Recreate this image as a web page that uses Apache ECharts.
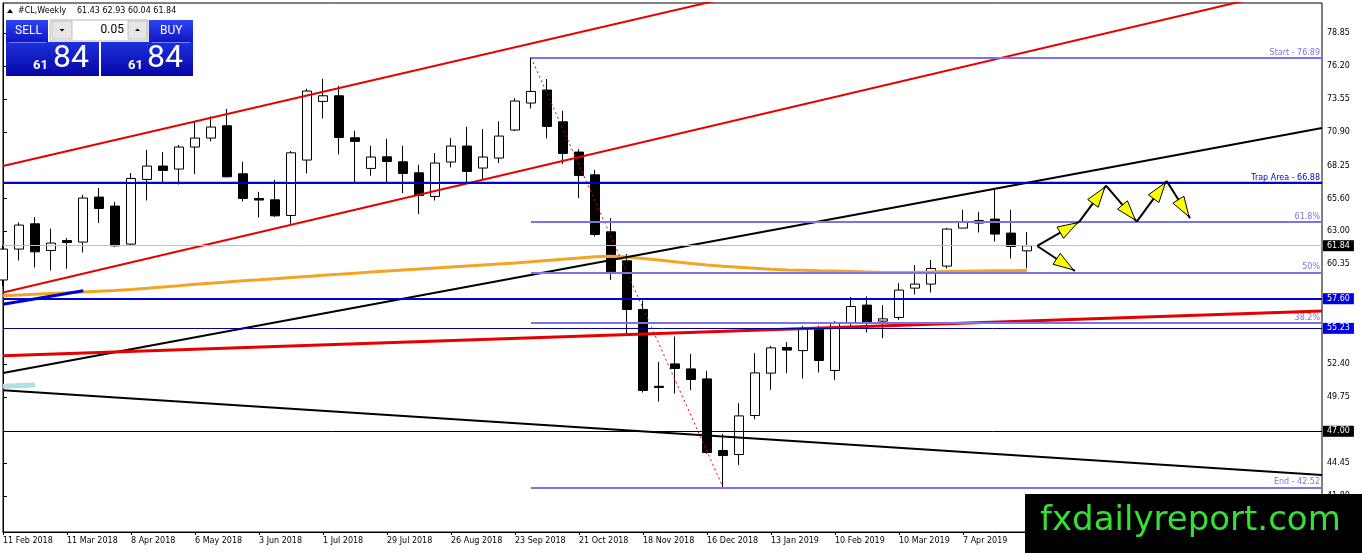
<!DOCTYPE html>
<html>
<head>
<meta charset="utf-8">
<script src="https://cdn.jsdelivr.net/npm/echarts/dist/echarts.min.js"></script>
<style>
html,body{margin:0;padding:0;background:#fff;}
#c{width:1362px;height:553px;}
</style>
</head>
<body>
<div id="c"></div>
<script>
// ---- data (weekly #CL candles, first week = 11 Feb 2018) ----
const xTickIdx = [0,4,8,12,16,20,24,28,32,36,40,44,48,52,56,60,64,68,72,76,80];
const xLabels = ['11 Feb 2018','11 Mar 2018','8 Apr 2018','6 May 2018','3 Jun 2018','1 Jul 2018','29 Jul 2018','26 Aug 2018','23 Sep 2018','21 Oct 2018','18 Nov 2018','16 Dec 2018','13 Jan 2019','10 Feb 2019','10 Mar 2019','7 Apr 2019','5 May 2019','2 Jun 2019','30 Jun 2019','28 Jul 2019','25 Aug 2019'];
const yTicks = [78.85,76.20,73.55,70.90,68.25,65.60,63.00,60.35,52.40,49.75,44.45,41.80];

const opens  = [59.10,61.57,63.59,61.46,62.25,62.13,65.73,65.01,61.97,67.14,68.21,67.97,69.73,70.45,71.43,67.59,65.62,65.51,64.26,68.69,73.38,73.83,70.47,68.02,68.95,68.55,67.67,65.78,68.53,69.81,68.05,68.85,71.09,73.25,74.29,71.75,69.33,67.51,62.95,60.63,56.74,50.60,52.39,51.99,51.19,45.46,45.14,48.26,51.65,53.70,53.45,55.17,51.86,55.70,57.09,55.81,56.10,58.45,58.77,60.21,63.25,63.65,63.97,62.85,61.43];
const highs  = [61.90,63.70,64.13,63.20,62.45,65.90,66.45,65.35,67.65,69.51,69.33,69.90,71.78,72.18,72.77,68.55,66.15,67.11,69.41,74.39,75.19,74.63,71.03,69.83,70.39,69.83,68.31,69.25,70.45,71.35,71.17,71.78,73.65,76.89,75.17,72.63,69.57,67.91,64.05,61.17,57.46,52.55,54.58,53.19,51.83,46.79,49.25,53.25,53.83,54.13,55.43,55.43,55.81,57.73,57.78,57.09,58.85,60.29,60.69,63.27,64.71,64.55,66.30,64.71,62.93];
const lows   = [58.60,60.66,60.10,59.86,60.00,61.30,63.65,61.73,61.89,65.46,66.93,66.74,67.57,70.18,67.30,65.38,64.10,64.15,63.60,67.62,72.02,69.14,66.93,67.43,66.90,66.05,64.37,65.46,68.10,66.90,67.11,68.45,71.00,72.82,70.42,68.37,65.65,62.58,59.11,54.85,50.10,49.38,50.02,50.29,45.20,42.52,44.31,47.97,50.31,51.65,51.22,51.70,51.11,55.38,54.90,54.45,55.91,57.94,58.10,60.02,63.25,62.90,62.18,60.82,60.04];
const closes = [61.57,63.49,61.35,62.05,62.10,65.65,64.82,61.83,67.22,68.21,67.86,69.73,70.45,71.33,67.35,65.62,65.49,64.23,69.27,74.21,73.83,70.50,70.18,68.93,68.58,67.62,65.86,68.45,69.81,67.78,68.93,70.61,73.41,74.18,71.38,69.22,67.46,62.74,59.75,56.74,50.26,50.50,52.02,51.14,45.30,45.06,48.23,51.67,53.67,53.49,55.17,52.66,55.70,56.98,55.70,55.99,58.29,58.77,60.02,63.17,63.70,63.86,62.77,61.78,61.84];
const maValues = [57.84,57.90,57.95,58.02,58.07,58.14,58.20,58.26,58.34,58.43,
  58.54,58.64,58.75,58.84,58.94,59.03,59.11,59.20,59.29,59.38,
  59.47,59.55,59.64,59.73,59.82,59.90,59.98,60.06,60.14,60.22,
  60.30,60.38,60.46,60.55,60.65,60.75,60.86,60.96,60.99,60.94,
  60.82,60.70,60.55,60.42,60.30,60.20,60.12,60.04,59.96,59.90,
  59.87,59.83,59.82,59.78,59.74,59.70,59.69,59.71,59.74,59.78,
  59.80,59.82,59.83,59.84,59.85];

// trend lines: [barIndex, price]
const redUpper   = [[0,68.22],[50,83.05]];
const redLower   = [[0,58.10],[82.44,82.89]];
const blackUp    = [[0,51.66],[82.44,71.25]];
const blackDown  = [[0,50.29],[82.44,43.50]];
const redThick   = [[0,53.04],[82.44,56.62]];
const blueShort  = [[0,57.16],[5.02,58.24]];
const lightBlue  = [[0,50.60],[2,50.70]];
const fibTrend   = [[33,76.89],[45,42.52]];
const fibLevels  = [
  {price:76.89, text:'Start - 76.89'},
  {price:63.76, text:'61.8%'},
  {price:59.705, text:'50%'},
  {price:55.65, text:'38.2%'},
  {price:42.52, text:'End - 42.52'}
];
const trapLevel = 66.88;
const lastPrice = 61.84;
const supportA = 57.60;
const supportB = 55.23;
const supportC = 47.00;
// projected path arrows: [x0, y0, x1, y1]
const arrowSegs = [
  [64.64,61.82,67.27,63.76],
  [67.27,63.76,68.94,66.64],
  [68.94,66.64,70.86,63.76],
  [70.86,63.76,72.73,67.02],
  [72.73,67.02,74.19,64.03],
  [64.64,61.82,67.00,59.82]
];

const candleData = opens.map((o,i)=>[i,o,closes[i],lows[i],highs[i]]);
const maData = maValues.map((v,i)=>[i,v]);
const XMAX = 82.4375;
const FIB = '#7d72e6';
const FONT = 'DejaVu Sans';

const chart = echarts.init(document.getElementById('c'), null, {renderer:'canvas'});

function trend(name, data, color, width, extra) {
  return Object.assign({
    name, type:'line', data, showSymbol:false, symbol:'none', silent:true, z:4,
    lineStyle:{color, width}, clip:true, animation:false
  }, extra||{});
}
function tag(value, bg, lineColor, lineWidth) {
  return {
    yAxis: value,
    lineStyle:{color: lineColor, width: lineWidth, type:'solid'},
    label:{show:true, position:'end', distance:1, formatter: value.toFixed(2),
      backgroundColor:bg, color:'#fff', padding:[2,4,1,4], fontFamily:FONT, fontSize:8}
  };
}

const option = {
  animation:false,
  backgroundColor:'#fff',
  grid:{left:3, top:3, right:40, bottom:21, show:true, borderColor:'#000', borderWidth:1, backgroundColor:'#fff'},
  xAxis:{
    type:'value', min:0, max:XMAX,
    axisLine:{show:true, lineStyle:{color:'#000', width:1}},
    axisTick:{show:true, length:3, lineStyle:{color:'#000'}, customValues:xTickIdx},
    axisLabel:{show:true, customValues:xTickIdx, formatter:(v)=>xLabels[Math.round(v/4)]||'', align:'left', margin:5,
      fontFamily:FONT, fontSize:8, color:'#000'},
    splitLine:{show:false}
  },
  yAxis:{
    type:'value', position:'right', min:38.945, max:81.25, scale:true,
    axisLine:{show:true, lineStyle:{color:'#000', width:1}},
    axisTick:{show:true, length:4, lineStyle:{color:'#000'}, customValues:yTicks},
    axisLabel:{show:true, customValues:yTicks, formatter:(v)=>v.toFixed(2), margin:5,
      fontFamily:FONT, fontSize:8, color:'#000'},
    splitLine:{show:false}
  },
  series:[
    {
      name:'levels', type:'line', data:[[0,trapLevel],[XMAX,trapLevel]], showSymbol:false, symbol:'none', silent:true, z:1,
      lineStyle:{color:'#0000cc', width:2}, animation:false,
      markLine:{
        silent:true, symbol:'none', animation:false,
        data:[
          tag(lastPrice,'#000000','#c0c0c0',1),
          tag(supportA,'#0000e6','#0000dd',2),
          tag(supportB,'#0000e6','#00009c',1),
          tag(supportC,'#000000','#000000',1),
          {yAxis:trapLevel, lineStyle:{color:'#0000cc', width:2, type:'solid'},
            label:{show:true, position:'insideEndTop', distance:[2,1], formatter:'Trap Area - 66.88', color:'#0000cc', fontFamily:FONT, fontSize:8}}
        ]
      }
    },
    {
      name:'CL', type:'candlestick', data:candleData, encode:{x:0, y:[1,2,3,4]}, barWidth:10, z:2, clip:true,
      itemStyle:{color:'#ffffff', color0:'#000000', borderColor:'#000000', borderColor0:'#000000', borderWidth:1},
      animation:false
    },
    trend('redUpper', redUpper, '#e60000', 2),
    trend('redLower', redLower, '#e60000', 2),
    trend('blackUp', blackUp, '#000000', 2),
    trend('blackDown', blackDown, '#000000', 2),
    trend('lightBlue', lightBlue, '#b0e0e6', 5),
    trend('MA', maData, '#f4a422', 3, {z:3}),
    trend('blueShort', blueShort, '#0000cc', 3),
    trend('redThick', redThick, '#e60000', 3),
    trend('fib', fibTrend, '#e60000', 1, {
      lineStyle:{color:'#e60000', width:1, type:[2,3]},
      markLine:{
        silent:true, symbol:'none', animation:false,
        data: fibLevels.map(f=>[
          {coord:[33,f.price], lineStyle:{color:FIB, width:2, type:'solid'},
            label:{show:true, position:'insideEndTop', distance:[2,1], formatter:f.text, color:FIB, fontFamily:FONT, fontSize:8}},
          {coord:[XMAX,f.price]}
        ])
      }
    }),
    {
      name:'arrows', type:'custom', data:arrowSegs, encode:{x:[0,2], y:[1,3]}, z:6, silent:true, animation:false,
      renderItem:(params, api)=>{
        const p0 = api.coord([api.value(0), api.value(1)]);
        const p1 = api.coord([api.value(2), api.value(3)]);
        const dx=p1[0]-p0[0], dy=p1[1]-p0[1];
        const len=Math.hypot(dx,dy)||1;
        const ux=dx/len, uy=dy/len, nx=-uy, ny=ux;
        const L=20, W=6.5;
        const tx=p1[0]-ux*2, ty=p1[1]-uy*2;
        const bx=tx-ux*L, by=ty-uy*L;
        return {type:'group', children:[
          {type:'line', shape:{x1:p0[0],y1:p0[1],x2:p1[0],y2:p1[1]}, style:{stroke:'#000', lineWidth:2}},
          {type:'polygon', shape:{points:[[tx,ty],[bx+nx*W,by+ny*W],[bx-nx*W,by-ny*W]]},
            style:{fill:'#ffff00', stroke:'#000', lineWidth:1}}
        ]};
      }
    }
  ],
  graphic:[
    // title line
    {type:'polygon', z:100, shape:{points:[[7,13],[13,13],[10,9]]}, style:{fill:'#000'}},
    {type:'text', z:100, x:18, y:11, style:{text:'#CL,Weekly', font:'8px DejaVu Sans', fill:'#000', verticalAlign:'middle'}},
    {type:'text', z:100, x:77, y:11, style:{text:'61.43 62.93 60.04 61.84', font:'8px DejaVu Sans', fill:'#000', verticalAlign:'middle'}},
    // SELL header
    {type:'rect', z:100, shape:{x:6,y:20,width:42,height:22}, style:{fill:new echarts.graphic.LinearGradient(0,0,0,1,[{offset:0,color:'#2e44f2'},{offset:1,color:'#1016c4'}])}},
    {type:'text', z:101, x:15, y:30.5, style:{text:'SELL', font:'12px Roboto', fill:'#fff', verticalAlign:'middle'}},
    // lot box
    {type:'rect', z:100, shape:{x:50,y:20,width:98,height:21}, style:{fill:'#fff', stroke:'#b8b8b8', lineWidth:1}},
    {type:'rect', z:101, shape:{x:52,y:21,width:20,height:18}, style:{fill:'#e6e6e6', stroke:'#c0c0c0', lineWidth:1}},
    {type:'polygon', z:102, shape:{points:[[59.5,29],[64.5,29],[62,31.5]]}, style:{fill:'#000'}},
    {type:'rect', z:101, shape:{x:128,y:21,width:19,height:18}, style:{fill:'#e6e6e6', stroke:'#c0c0c0', lineWidth:1}},
    {type:'polygon', z:102, shape:{points:[[135,31],[140,31],[137.5,28.5]]}, style:{fill:'#000'}},
    {type:'text', z:101, x:124, y:30, style:{text:'0.05', font:'12px Roboto', fill:'#000', align:'right', verticalAlign:'middle'}},
    // BUY header
    {type:'rect', z:100, shape:{x:149,y:20,width:44,height:22}, style:{fill:new echarts.graphic.LinearGradient(0,0,0,1,[{offset:0,color:'#2e44f2'},{offset:1,color:'#1016c4'}])}},
    {type:'text', z:101, x:160, y:30.5, style:{text:'BUY', font:'12px Roboto', fill:'#fff', verticalAlign:'middle'}},
    // price boxes
    {type:'rect', z:100, shape:{x:6,y:42,width:93,height:34}, style:{fill:new echarts.graphic.LinearGradient(0,0,0,1,[{offset:0,color:'#1d30dc'},{offset:1,color:'#0606a6'}])}},
    {type:'rect', z:100, shape:{x:101,y:42,width:92,height:34}, style:{fill:new echarts.graphic.LinearGradient(0,0,0,1,[{offset:0,color:'#1d30dc'},{offset:1,color:'#0606a6'}])}},
    {type:'line', z:101, shape:{x1:9,y1:42.5,x2:46,y2:42.5}, style:{stroke:'#7080ff', lineWidth:1}},
    {type:'line', z:101, shape:{x1:152,y1:42.5,x2:190,y2:42.5}, style:{stroke:'#7080ff', lineWidth:1}},
    {type:'text', z:101, x:48, y:65.5, style:{text:'61', font:'bold 13px Roboto', fill:'#fff', align:'right', verticalAlign:'middle'}},
    {type:'text', z:101, x:53, y:59, style:{text:'84', font:'32px Roboto', fill:'#fff', verticalAlign:'middle'}},
    {type:'text', z:101, x:143, y:65.5, style:{text:'61', font:'bold 13px Roboto', fill:'#fff', align:'right', verticalAlign:'middle'}},
    {type:'text', z:101, x:147, y:59, style:{text:'84', font:'32px Roboto', fill:'#fff', verticalAlign:'middle'}},
    // watermark
    {type:'rect', z:110, shape:{x:1025,y:494,width:337,height:59}, style:{fill:'#000'}},
    {type:'text', z:111, x:1040, y:521, style:{text:'fxdailyreport.com', font:'34px DejaVu Sans', fill:'#35e035', verticalAlign:'middle'}}
  ]
};
chart.setOption(option);
</script>
</body>
</html>
